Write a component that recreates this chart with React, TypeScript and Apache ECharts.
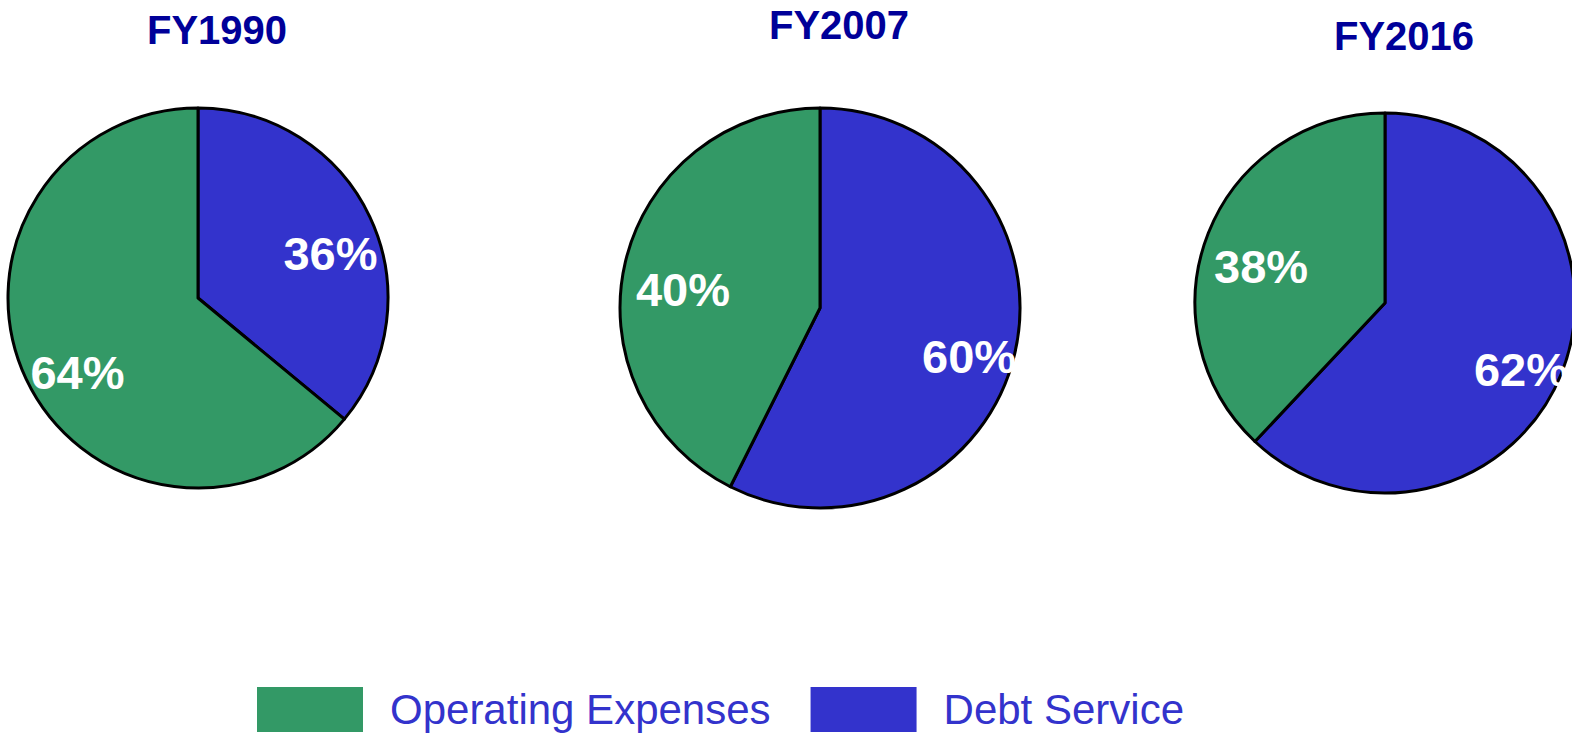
import React, { useEffect, useRef } from "react";
import * as echarts from "echarts";

const years = ["FY1990", "FY2007", "FY2016"];
const categories = ["Debt Service", "Operating Expenses"];
const legendOrder = ["Operating Expenses", "Debt Service"];
const debtShare = [36, 57.4, 62];
const opexShare = [64, 42.6, 38];
const debtLabels = ["36%", "60%", "62%"];
const opexLabels = ["64%", "40%", "38%"];

const colors: Record<string, string> = {
  "Operating Expenses": "#339966",
  "Debt Service": "#3333CC",
};

// layout only
const centers: [number, number][] = [
  [198, 298],
  [820, 308],
  [1385, 303],
];
const radii = [190, 200, 190];
const titleTops = [5, 0, 11];

const FONT = "'Liberation Sans', Arial, Helvetica, sans-serif";

export default function App() {
  const ref = useRef<HTMLDivElement>(null);
  useEffect(() => {
    if (!ref.current) return;
    const chart = echarts.init(ref.current, undefined, { renderer: "svg" });
    const series: any[] = [];
    years.forEach((y, i) => {
      const vals = [debtShare[i], opexShare[i]];
      const labs = [debtLabels[i], opexLabels[i]];
      series.push({
        type: "pie",
        name: y,
        center: centers[i],
        radius: [0, radii[i]],
        startAngle: 90,
        clockwise: true,
        silent: true,
        label: { show: false },
        labelLine: { show: false },
        emphasis: { disabled: true },
        itemStyle: { borderColor: "#000", borderWidth: 3 },
        data: categories.map((c, k) => ({
          name: c,
          value: vals[k],
          itemStyle: { color: colors[c] },
        })),
      });
      series.push({
        type: "pie",
        name: y + " labels",
        center: centers[i],
        radius: [radii[i] * 0.44, radii[i]],
        startAngle: 90,
        clockwise: true,
        silent: true,
        legendHoverLink: false,
        emphasis: { disabled: true },
        itemStyle: { color: "rgba(0,0,0,0)", borderWidth: 0 },
        labelLine: { show: false },
        label: {
          show: true,
          position: "inside",
          color: "#ffffff",
          fontFamily: FONT,
          fontWeight: "bold",
          fontSize: 47,
          offset: [6, 15],
          formatter: (p: any) => labs[p.dataIndex],
        },
        data: categories.map((c, k) => ({ name: c, value: vals[k] })),
      });
    });
    chart.setOption({
      animation: false,
      backgroundColor: "#ffffff",
      title: years.map((y, i) => ({
        text: y,
        left: centers[i][0] + 14,
        top: titleTops[i],
        textAlign: "center",
        textStyle: {
          color: "#000099",
          fontFamily: FONT,
          fontWeight: "bold",
          fontSize: 40,
        },
      })),
      legend: {
        left: 252,
        top: 682,
        icon: "rect",
        itemWidth: 106,
        itemHeight: 45,
        itemGap: 40,
        selectedMode: false,
        itemStyle: { borderWidth: 0 },
        textStyle: {
          color: "#3333CC",
          fontFamily: FONT,
          fontSize: 42,
          padding: [0, 0, 0, 22],
        },
        data: legendOrder.map((n) => ({
          name: n,
          itemStyle: { color: colors[n], borderWidth: 0 },
        })),
      },
      series,
    });
    return () => chart.dispose();
  }, []);
  return (
    <div
      ref={ref}
      style={{ position: "fixed", left: 0, top: 0, width: 1572, height: 735 }}
    />
  );
}
